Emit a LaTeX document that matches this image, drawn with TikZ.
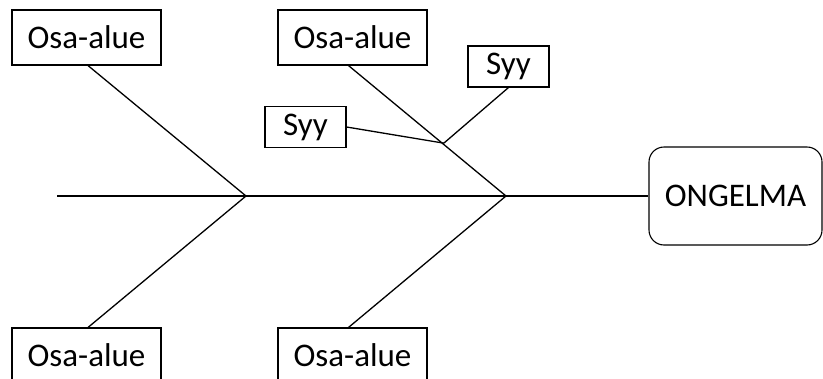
\documentclass[tikz,border=0pt]{standalone}
\usepackage{fontspec}
\setmainfont{Carlito}
\usetikzlibrary{positioning, calc}

\begin{document}
\begin{tikzpicture}[
    x=1pt, y=-1pt,
    area/.style={rectangle, draw, line width=1.1pt, minimum width=149pt, minimum height=55pt, inner sep=0pt, font=\fontsize{33}{38}\selectfont},
    cause/.style={rectangle, draw, line width=1.1pt, minimum width=81pt, minimum height=41pt, inner sep=0pt, font=\fontsize{33}{38}\selectfont},
    effect/.style={rectangle, rounded corners=15pt, draw, line width=1.1pt, minimum width=173pt, minimum height=98pt, inner sep=0pt, font=\fontsize{33}{38}\selectfont},
    bone/.style={line width=1.3pt}
]
\clip (0,0) rectangle (823,378);
\fill[white] (0,0) rectangle (823,378);

% Problem head
\node[effect] (ongelma) at (735.5,196) {ONGELMA};

% Sub-areas above and below the spine
\node[area] (osa1) at (86.5,37.5) {Osa-alue};
\node[area] (osa2) at (352.5,37.5) {Osa-alue};
\node[area] (osa3) at (86.5,355.5) {Osa-alue};
\node[area] (osa4) at (352.5,355.5) {Osa-alue};

% Causes
\node[cause] (syy1) at (305.5,127) {Syy};
\node[cause] (syy2) at (508.5,66.5) {Syy};

% Spine
\coordinate (tail) at (57,196);
\coordinate (j1) at (246,196);
\coordinate (j2) at (506,196);
\coordinate (k) at ($(osa2.south)!0.595!(j2)$);

\draw[bone] (tail) -- (ongelma.west);
\draw[bone] ([xshift=1.5pt]osa1.south) -- (j1) -- ([xshift=1.5pt]osa3.north);
\draw[bone] ([xshift=-4pt]osa2.south) -- (j2) -- ([xshift=-4pt]osa4.north);
\draw[bone] (syy1.east) -- (k);
\draw[bone] (syy2.south) -- (k);
\end{tikzpicture}
\end{document}
